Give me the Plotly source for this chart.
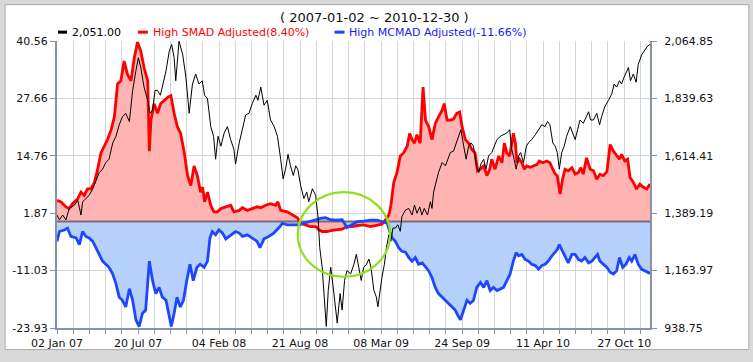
import pandas as pd
import plotly.graph_objects as go

START = pd.Timestamp("2007-01-02")
END = pd.Timestamp("2010-12-30")

# ---- data (days since 2007-01-02 and values) ----
close_days = [0,6,14,22,30,43,51,59,63,71,
              79,88,96,104,112,120,128,137,145,153,
              161,169,178,186,194,200,206,214,223,229,
              235,241,247,254,259,268,276,282,288,292,
              300,309,317,325,333,341,349,357,363,370,
              378,385,390,396,403,411,419,427,435,439,
              448,456,464,472,480,489,494,501,509,517,
              525,534,542,550,556,562,568,574,581,587,
              592,599,607,614,619,628,636,642,646,652,
              658,662,667,673,679,685,689,696,701,707,
              713,722,730,736,742,748,754,761,767,772,
              779,785,789,795,799,805,810,816,821,826,
              832,838,844,848,857,865,873,879,885,892,
              897,903,911,918,922,926,933,938,947,955,
              961,967,975,982,988,993,1000,1006,1012,1018,
              1024,1031,1037,1042,1049,1055,1061,1069,1075,1082,
              1090,1098,1106,1113,1118,1124,1129,1135,1140,1147,
              1154,1159,1167,1176,1184,1192,1200,1206,1212,1219,
              1225,1230,1235,1241,1247,1253,1262,1268,1274,1280,
              1286,1294,1301,1307,1312,1319,1327,1334,1339,1347,
              1356,1364,1370,1376,1383,1388,1394,1401,1405,1410,
              1417,1424,1429,1438,1446,1452,1458]
close_vals = [1382,1363,1382,1363,1408,1421,1440,1382,1434,1446,
              1459,1485,1517,1549,1562,1588,1601,1665,1691,1736,
              1768,1781,1749,1871,1948,1999,1961,1884,1832,1781,
              1794,1871,1871,1852,1884,1948,2025,2051,1999,1909,
              2064,2012,1922,1781,1896,1935,1896,1909,1852,1838,
              1729,1691,1601,1691,1652,1704,1729,1678,1640,1582,
              1665,1717,1775,1781,1819,1852,1832,1884,1813,1832,
              1755,1729,1691,1601,1524,1562,1620,1575,1537,1575,
              1562,1498,1447,1472,1434,1485,1459,1370,1254,1177,
              1048,945,1087,1177,1100,1009,958,1074,1009,1125,
              1164,1151,1189,1228,1177,1125,1177,1189,1209,1177,
              1087,1061,1022,1100,1138,1189,1254,1305,1279,1331,
              1331,1344,1318,1376,1402,1408,1382,1421,1389,1414,
              1382,1408,1382,1434,1408,1472,1511,1549,1588,1575,
              1601,1627,1633,1665,1691,1717,1652,1601,1652,1665,
              1652,1575,1549,1582,1601,1562,1614,1627,1652,1678,
              1691,1697,1704,1717,1640,1601,1562,1614,1627,1588,
              1652,1665,1678,1697,1717,1736,1729,1749,1736,1665,
              1652,1627,1562,1627,1652,1691,1729,1704,1678,1717,
              1755,1742,1768,1787,1755,1755,1781,1736,1768,1807,
              1832,1858,1896,1884,1909,1896,1922,1948,1961,1909,
              1935,1903,1973,2012,2031,2045,2051.00]

smad_days = [0,10,22,30,38,51,59,67,75,83,
             92,100,108,116,124,133,141,149,157,165,
             173,182,190,198,206,214,223,227,231,239,
             247,255,263,272,280,288,296,304,313,321,
             329,337,345,353,358,363,370,378,386,394,
             403,415,427,435,448,456,468,480,492,501,
             513,525,537,543,550,566,578,591,599,611,
             623,636,644,652,664,677,689,701,713,726,
             738,754,771,787,799,807,816,821,828,836,
             844,852,861,867,873,879,885,893,900,906,
             914,922,930,938,947,952,959,967,975,983,
             990,996,1004,1012,1020,1028,1034,1041,1049,1057,
             1064,1069,1077,1086,1094,1100,1106,1113,1118,1122,
             1127,1131,1137,1143,1149,1155,1163,1172,1180,1186,
             1194,1204,1212,1219,1225,1230,1237,1243,1249,1257,
             1266,1274,1282,1288,1294,1302,1311,1319,1327,1335,
             1343,1352,1360,1368,1376,1383,1388,1396,1403,1409,
             1417,1425,1433,1442,1450,1458]
smad_vals = [4.75,4.37,3.27,2.91,4.01,5.12,6.59,5.85,7.33,7.33,
             8.80,11.75,15.43,16.9,18.37,20.58,23.5,30.9,31.6,36.05,
             33.1,31.6,36.8,40.3,38.3,34.6,31.6,15.8,22.8,26.5,
             24.3,26.5,27.2,27.9,28.3,24.3,21.3,19.8,15.4,10.3,
             8.06,12.5,10.3,6.6,7.7,4.4,6.6,3.65,2.17,2.17,
             2.9,3.3,3.65,2.17,2.5,3.1,2.5,2.9,3.3,3.1,
             3.65,4.0,3.65,4.4,2.5,2.17,1.44,0.85,-0.4,-0.77,
             -1.15,-1.15,-1.88,-2.25,-2.25,-2.0,-1.88,-1.7,-1.15,-1.15,
             -0.9,-0.77,-1.15,-0.77,-0.6,0.33,1.44,3.65,8.8,11.0,
             14.7,15.4,16.9,19.8,18.4,17.6,19.5,17.6,30.2,22.8,
             21.3,18.4,22.0,23.5,25.0,26.5,22.8,22.8,23.0,24.3,
             24.6,21.3,18.4,17.6,16.2,15.4,11.4,11.75,12.5,10.3,
             11.75,14.0,11.75,14.7,13.2,17.6,15.4,14.7,17.6,19.8,
             17.6,13.2,14.0,13.2,11.75,12.5,12.2,12.5,12.8,13.6,
             13.2,13.6,13.2,11.75,10.65,10.3,6.2,9.5,11.75,11.4,
             12.1,10.65,11.0,12.1,10.65,14.3,11.75,11.4,9.5,10.6,
             10.3,11.2,17.3,15.8,14.7,14.0,15.1,13.6,14.0,9.9,
             8.8,7.3,8.4,7.7,7.3,8.40]

mcmad_days = [0,6,18,26,34,47,55,63,71,79,
              88,96,104,112,120,128,137,145,153,161,
              169,178,186,194,202,210,218,227,235,243,
              251,259,268,276,281,288,295,303,311,319,
              327,335,344,352,362,370,376,382,390,398,
              407,415,427,439,448,456,468,480,492,499,
              509,521,533,546,554,566,583,595,607,619,
              632,648,660,673,685,701,713,726,738,754,
              771,787,803,812,818,824,832,840,848,857,
              865,873,881,889,898,906,914,922,930,938,
              947,955,963,971,979,985,992,1000,1008,1016,
              1024,1032,1041,1049,1057,1065,1073,1082,1090,1098,
              1106,1114,1122,1129,1135,1143,1151,1159,1167,1176,
              1184,1192,1200,1208,1217,1225,1230,1235,1241,1249,
              1257,1266,1274,1282,1290,1298,1307,1315,1323,1329,
              1335,1343,1352,1360,1368,1376,1383,1391,1399,1407,
              1413,1421,1429,1437,1446,1458]
mcmad_vals = [-4.46,-2.25,-1.9,-1.5,-3.35,-3.7,-5.2,-2.25,-3.35,-3.7,
              -4.46,-5.9,-7.4,-8.9,-9.6,-10.3,-11.8,-14.0,-17.0,-17.7,
              -19.2,-15.1,-17.7,-22.1,-23.6,-20.65,-19.9,-8.9,-13.3,-16.2,
              -14.8,-17.0,-17.7,-21.4,-23.6,-20.6,-17.0,-19.2,-17.7,-13.3,
              -9.6,-13.3,-10.3,-9.6,-10.3,-8.9,-3.7,-2.25,-3.0,-1.9,
              -2.6,-3.9,-3.0,-2.25,-2.6,-3.35,-3.0,-3.7,-4.46,-5.9,
              -3.9,-3.35,-2.6,-1.36,-0.4,-0.77,-0.77,-0.77,-0.4,-0.04,
              0.33,0.7,0.85,0.4,0.33,0.4,-1.36,-0.77,-0.04,0.1,
              0.33,0.33,-0.04,-0.4,-2.25,-3.7,-4.46,-5.9,-6.7,-6.9,
              -8.1,-8.9,-8.1,-9.6,-9.3,-10.3,-11.1,-12.6,-14.8,-16.2,
              -17.0,-17.7,-18.4,-19.2,-19.9,-21.0,-22.1,-19.9,-17.7,-18.4,
              -17.7,-14.8,-13.7,-14.8,-13.3,-15.5,-14.8,-15.5,-15.2,-14.8,
              -13.3,-11.8,-8.9,-7.0,-7.7,-7.4,-8.5,-8.9,-9.6,-9.9,
              -10.7,-9.9,-9.6,-8.9,-7.7,-6.7,-6.3,-5.2,-6.3,-7.7,
              -9.3,-7.4,-7.4,-8.5,-8.9,-8.1,-9.3,-8.9,-8.1,-7.4,
              -8.9,-9.6,-10.3,-11.4,-11.8,-11.1,-8.1,-10.3,-9.6,-8.1,
              -8.9,-7.4,-9.6,-10.7,-11.1,-11.66]

left_ticks = [-23.93, -11.03, 1.87, 14.76, 27.66, 40.56]
right_ticks = [938.75, 1163.97, 1389.19, 1614.41, 1839.63, 2064.85]
tick_step_days = 199.2
# highlighted region (circle) in data terms
circle_days = (592, 819)
circle_vals = (-12.41, 6.58)


def to_dates(days):
    return START + pd.to_timedelta(days, unit="D")


close_x = to_dates(close_days)
smad_x = to_dates(smad_days)
mcmad_x = to_dates(mcmad_days)

RED = "#ff0000"
BLUE = "#1e46ff"
AXIS = "#8792a6"
GRID = "#d5d5d5"
FONT = "DejaVu Sans"

fig = go.Figure()
fig.add_trace(go.Scatter(x=smad_x, y=smad_vals, mode="lines", fill="tozeroy",
                         fillcolor="#ffb3b3", line=dict(color="rgba(0,0,0,0)", width=0),
                         hoverinfo="skip", showlegend=False))
fig.add_trace(go.Scatter(x=mcmad_x, y=mcmad_vals, mode="lines", fill="tozeroy",
                         fillcolor="#b6d0fc", line=dict(color="rgba(0,0,0,0)", width=0),
                         hoverinfo="skip", showlegend=False))
fig.add_trace(go.Scatter(x=[START, END], y=[0, 0], mode="lines",
                         line=dict(color="#7c6a72", width=2), hoverinfo="skip",
                         showlegend=False))
fig.add_trace(go.Scatter(x=smad_x, y=smad_vals, mode="lines",
                         line=dict(color=RED, width=2.8), showlegend=False))
fig.add_trace(go.Scatter(x=mcmad_x, y=mcmad_vals, mode="lines",
                         line=dict(color=BLUE, width=2.8), showlegend=False))
fig.add_trace(go.Scatter(x=close_x, y=close_vals, mode="lines", yaxis="y2",
                         line=dict(color="#000000", width=1), showlegend=False))

ms_day = 86400000
fig.update_layout(
    width=753, height=362,
    margin=dict(l=56, r=103, t=41, b=29),
    paper_bgcolor="#d9d9d9",
    plot_bgcolor="rgba(0,0,0,0)",
    font=dict(family=FONT, size=11, color="#111111"),
    xaxis=dict(
        type="date", range=[START, END],
        tick0=START, dtick=tick_step_days * ms_day, tickformat="%d %b %y",
        showgrid=True, gridcolor=GRID, gridwidth=1,
        ticks="outside", ticklen=4, tickcolor=AXIS,
        minor=dict(tick0=START, dtick=tick_step_days / 5 * ms_day, showgrid=True,
                   gridcolor=GRID, gridwidth=1, ticks="outside", ticklen=4, tickcolor=AXIS),
        showline=True, linecolor=AXIS, linewidth=2, zeroline=False,
    ),
    yaxis=dict(
        range=[left_ticks[0], left_ticks[-1]],
        tickvals=left_ticks, ticktext=[f"{v:.2f}" for v in left_ticks],
        showgrid=True, gridcolor=GRID, gridwidth=1, zeroline=False,
        ticks="outside", ticklen=5, tickcolor=AXIS,
        showline=True, linecolor=AXIS, linewidth=2,
    ),
    yaxis2=dict(
        overlaying="y", side="right",
        range=[right_ticks[0], right_ticks[-1]],
        tickvals=right_ticks, ticktext=[f"{v:,.2f}" for v in right_ticks],
        showgrid=False, zeroline=False,
        ticks="outside", ticklen=5, tickcolor=AXIS, ticklabelstandoff=5,
        showline=True, linecolor=AXIS, linewidth=2,
    ),
    showlegend=False,
)

shapes = [
    dict(type="rect", xref="paper", yref="paper", x0=-0.0875, x1=1.1667,
         y0=-0.0753, y1=1.1267, fillcolor="white",
         line=dict(color="#a8a8a8", width=1), layer="below"),
    dict(type="circle", xref="x", yref="y",
         x0=to_dates([circle_days[0]])[0], x1=to_dates([circle_days[1]])[0],
         y0=circle_vals[0], y1=circle_vals[1],
         line=dict(color="#8fe01f", width=2.2), layer="above"),
]

legend_items = [
    (f"{close_vals[-1]:,.2f}", "#000000", "#000000", 57, 66, 69),
    (f"High SMAD Adjusted({smad_vals[-1]:.2f}%)", RED, RED, 137, 147, 150),
    (f"High MCMAD Adjusted({mcmad_vals[-1]:.2f}%)", "#1a1aee", BLUE, 334, 344, 346),
]


def px_x(p):
    return (p - 56) / 594.0


leg_y = (333 - 32) / 292.0
annotations = []
for text, tcolor, lcolor, b0, b1, tx in legend_items:
    shapes.append(dict(type="line", xref="paper", yref="paper",
                       x0=px_x(b0), x1=px_x(b1), y0=leg_y, y1=leg_y,
                       line=dict(color=lcolor, width=3)))
    annotations.append(dict(xref="paper", yref="paper", x=px_x(tx), y=leg_y,
                            xanchor="left", yanchor="middle", showarrow=False,
                            text=text, font=dict(family=FONT, size=11, color=tcolor)))

annotations.append(dict(xref="paper", yref="paper", x=px_x(374), y=(333 - 17) / 292.0,
                        xanchor="center", yanchor="middle", showarrow=False,
                        text=f"( {START:%Y-%m-%d} ~ {END:%Y-%m-%d} )",
                        font=dict(family=FONT, size=13, color="#111111")))

fig.update_layout(shapes=shapes, annotations=annotations)
fig.write_html("out.html", config={"displayModeBar": False},
               post_script="document.body.style.margin='0';document.body.style.overflow='hidden';")
